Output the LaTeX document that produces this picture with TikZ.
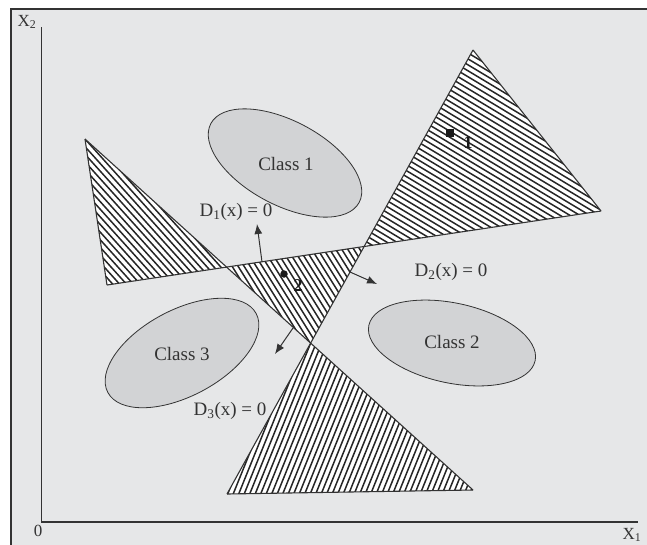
\documentclass[tikz,border=0pt]{standalone}
\usepackage{fontspec}
\setmainfont{Liberation Serif}
\usetikzlibrary{arrows.meta}
\definecolor{bg}{HTML}{E6E7E8}
\definecolor{ellfill}{HTML}{D2D3D5}
\definecolor{ink}{HTML}{333333}
\newcommand\hatchtri[4]{%
  \begin{scope}
    \clip (#1) -- (#2) -- (#3) -- cycle;
    \fill[white] (#1) -- (#2) -- (#3) -- cycle;
    \foreach \k in {-65,...,65}
      \draw[hatchline, shift={(#1)}, rotate=#4] (-400,\k*5.1) -- (400,\k*5.1);
  \end{scope}}
\begin{document}
\begin{tikzpicture}[x=1pt,y=-1pt,
  hatchline/.style={line width=1.5pt, black!85},
  edge/.style={line width=1.1pt, ink},
  clsell/.style={fill=ellfill, draw=ink, line width=0.8pt},
  lbl/.style={text=ink, font=\fontsize{19}{22}\selectfont, inner sep=0pt},
  axlbl/.style={text=ink, font=\fontsize{17}{19}\selectfont, inner sep=0pt},
  ptlbl/.style={text=black!90, font=\fontsize{18}{20}\selectfont\bfseries, inner sep=0pt},
  arr/.style={-{Latex[length=10pt,width=8pt]}, line width=1pt, ink}]
\useasboundingbox (0,0) rectangle (647,544);
\fill[white] (0,0) rectangle (647,544);
\fill[bg] (11,9) rectangle (655,555);
\draw[ink, line width=1.5pt] (655,9) -- (11,9) -- (11,555);
% axes
\coordinate (O) at (41.5,522);
\coordinate (Ytop) at (41.5,27);
\coordinate (Xend) at (638,522);
\draw[ink, line width=1.1pt] (Ytop) -- (O) -- (Xend);
\node[axlbl] (x2) at (27,22) {X\textsubscript{2}};
\node[axlbl] (x1) at (632,535) {X\textsubscript{1}};
\node[axlbl] (zero) at (38,531) {0};
% line end points
\coordinate (P) at (85,139);
\coordinate (A) at (107,285);
\coordinate (R) at (473,50);
\coordinate (B) at (601,211);
\coordinate (S) at (227,494);
\coordinate (Q) at (473,490);
\coordinate (X13) at (intersection of A--B and P--Q);
\coordinate (X12) at (intersection of A--B and R--S);
\coordinate (X23) at (intersection of R--S and P--Q);
% hatched regions
\hatchtri{P}{A}{X13}{-48}
\hatchtri{R}{B}{X12}{-31}
\hatchtri{X13}{X12}{X23}{-58}
\hatchtri{X23}{S}{Q}{68}
\draw[edge] (P) -- (A);
\draw[edge] (R) -- (B);
\draw[edge] (S) -- (Q);
\draw[edge] (A) -- (B);
\draw[edge] (R) -- (S);
\draw[edge] (P) -- (Q);
% classes
\draw[clsell, rotate around={-28:(285,163)}] (285,163) ellipse [x radius=84, y radius=42];
\draw[clsell, rotate around={-12:(452,343)}] (452,343) ellipse [x radius=85, y radius=40];
\draw[clsell, rotate around={28:(182,353)}] (182,353) ellipse [x radius=84, y radius=43];
\node[lbl] (c1) at (286,164) {Class 1};
\node[lbl] (c2) at (452,342) {Class 2};
\node[lbl] (c3) at (182,354) {Class 3};
% decision labels
\node[lbl] (d1) at (236,212) {D\textsubscript{1}(x) = 0};
\node[lbl] (d2) at (451,272) {D\textsubscript{2}(x) = 0};
\node[lbl] (d3) at (230,411) {D\textsubscript{3}(x) = 0};
% arrows
\coordinate (a1s) at (262,262);
\coordinate (a1e) at (257,224);
\coordinate (a2s) at (350,272);
\coordinate (a2e) at (377,284);
\coordinate (a3s) at (293,328);
\coordinate (a3e) at (275,354);
\draw[arr] (a1s) -- (a1e);
\draw[arr] (a2s) -- (a2e);
\draw[arr] (a3s) -- (a3e);
% points
\node[fill=black!90, minimum size=8.5pt, inner sep=0pt] (p1) at (450,133) {};
\node[ptlbl] (l1) at (468,143) {1};
\node[circle, fill=black!90, minimum size=7.5pt, inner sep=0pt] (p2) at (284,274) {};
\node[ptlbl] (l2) at (298,286) {2};
\end{tikzpicture}
\end{document}
